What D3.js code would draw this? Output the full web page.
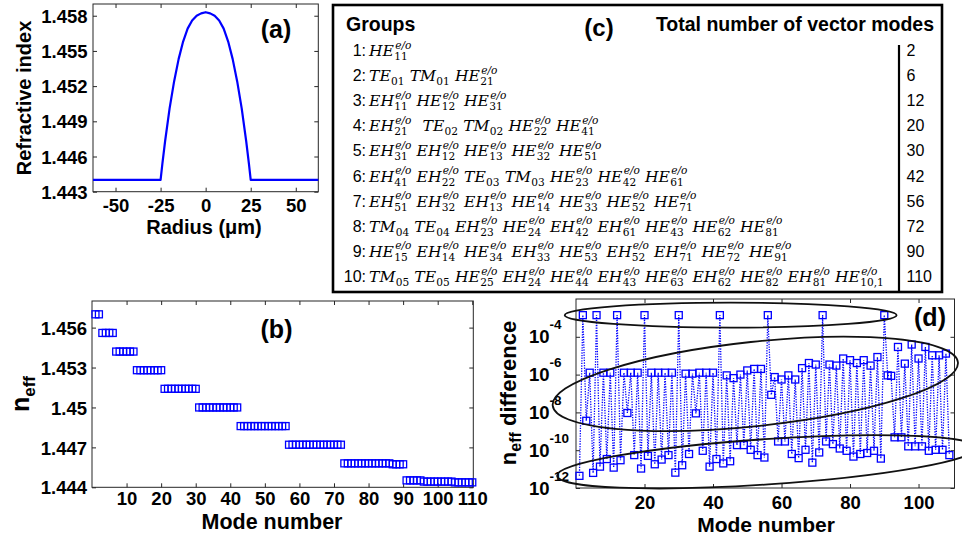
<!DOCTYPE html>
<html>
<head>
<meta charset="utf-8">
<script src="https://cdn.jsdelivr.net/npm/d3@7"></script>
<style>
  body { margin: 0; background: #fff; }
  svg { display: block; font-family: "Liberation Sans", Arial, sans-serif; }
  .tick text { font-weight: bold; font-size: 18.5px; fill: #000; }
  .tick line { stroke: #262626; }
  .frame { fill: none; stroke: #262626; stroke-width: 1; }
  .lbl { font-weight: bold; fill: #000; }
  .math { font-family: "DejaVu Serif", serif; font-style: italic; font-size: 15.6px; }
  .msub { font-family: "DejaVu Serif", serif; font-size: 10.6px; }
  .msup { font-family: "DejaVu Serif", serif; font-style: italic; font-size: 10.6px; }
</style>
</head>
<body>
<svg id="fig" width="962" height="535"></svg>
<script>
// ---------- (a) refractive index profile ----------
const radiusUm = [-62.5, -25, -24, -22.5, -20, -17.5, -15, -12.5, -10, -7.5, -5, -2.5, 0,
                  2.5, 5, 7.5, 10, 12.5, 15, 17.5, 20, 22.5, 24, 25, 62.5];
const refIndex = [1.4440, 1.4440, 1.4454, 1.4473, 1.4501, 1.4524, 1.4543, 1.4558, 1.4569, 1.4576, 1.4580, 1.4582, 1.4583,
                  1.4582, 1.4580, 1.4576, 1.4569, 1.4558, 1.4543, 1.4524, 1.4501, 1.4473, 1.4454, 1.4440, 1.4440];
const ticksA_x = [-50, -25, 0, 25, 50];
const ticksA_y = [1.443, 1.446, 1.449, 1.452, 1.455, 1.458];

// ---------- (b) effective index of each vector mode ----------
const neff = [
  1.45700, 1.45700,
  1.45560, 1.45560, 1.45560, 1.45560,
  1.45420, 1.45420, 1.45420, 1.45420, 1.45420, 1.45420,
  1.45280, 1.45280, 1.45280, 1.45280, 1.45280, 1.45280, 1.45280, 1.45280,
  1.45140, 1.45140, 1.45140, 1.45140, 1.45140, 1.45140, 1.45140, 1.45140, 1.45140, 1.45140,
  1.45000, 1.45000, 1.45000, 1.45000, 1.45000, 1.45000, 1.45000, 1.45000, 1.45000, 1.45000, 1.45000, 1.45000,
  1.44860, 1.44860, 1.44860, 1.44860, 1.44860, 1.44860, 1.44860, 1.44860, 1.44860, 1.44860, 1.44860, 1.44860, 1.44860, 1.44860,
  1.44720, 1.44720, 1.44720, 1.44720, 1.44720, 1.44720, 1.44720, 1.44720, 1.44720, 1.44720, 1.44720, 1.44720, 1.44720, 1.44720, 1.44720, 1.44720,
  1.44580, 1.44580, 1.44580, 1.44580, 1.44580, 1.44580, 1.44580, 1.44580, 1.44580, 1.44580, 1.44580, 1.44580, 1.44580, 1.44580, 1.44573, 1.44573, 1.44573, 1.44573,
  1.44452, 1.44452, 1.44452, 1.44452, 1.44452, 1.44443, 1.44443, 1.44443, 1.44443, 1.44443, 1.44443, 1.44443, 1.44443, 1.44443,
  1.44437, 1.44437, 1.44437, 1.44437, 1.44437, 1.44437
];
const ticksB_x = [10, 20, 30, 40, 50, 60, 70, 80, 90, 100, 110];
const ticksB_y = [1.444, 1.447, 1.45, 1.453, 1.456];

// ---------- (c) mode groups ----------
const groupModes = [
  ["HE_11^e/o"],
  ["TE_01", "TM_01", "HE_21^e/o"],
  ["EH_11^e/o", "HE_12^e/o", "HE_31^e/o"],
  ["EH_21^e/o", "", "TE_02", "TM_02", "HE_22^e/o", "HE_41^e/o"],
  ["EH_31^e/o", "EH_12^e/o", "HE_13^e/o", "HE_32^e/o", "HE_51^e/o"],
  ["EH_41^e/o", "EH_22^e/o", "TE_03", "TM_03", "HE_23^e/o", "HE_42^e/o", "HE_61^e/o"],
  ["EH_51^e/o", "EH_32^e/o", "EH_13^e/o", "HE_14^e/o", "HE_33^e/o", "HE_52^e/o", "HE_71^e/o"],
  ["TM_04", "TE_04", "EH_23^e/o", "HE_24^e/o", "EH_42^e/o", "EH_61^e/o", "HE_43^e/o", "HE_62^e/o", "HE_81^e/o"],
  ["HE_15^e/o", "EH_14^e/o", "HE_34^e/o", "EH_33^e/o", "HE_53^e/o", "EH_52^e/o", "EH_71^e/o", "HE_72^e/o", "HE_91^e/o"],
  ["TM_05", "TE_05", "HE_25^e/o", "EH_24^e/o", "HE_44^e/o", "EH_43^e/o", "HE_63^e/o", "EH_62^e/o", "HE_82^e/o", "EH_81^e/o", "HE_10,1^e/o"]
];
const groupTotals = [2, 6, 12, 20, 30, 42, 56, 72, 90, 110];

// ---------- (d) n_eff difference between consecutive modes ----------
const neffDiff = [
  4.4e-12, 1.4e-3, 3.6e-9, 1.26e-6, 6.3e-12, 1.4e-3,
  1.35e-11, 1.26e-6, 3.4e-11, 1.26e-6, 1.2e-11, 1.4e-3,
  2.95e-11, 1.26e-6, 9.3e-9, 1.26e-6, 5.5e-11, 1.26e-6, 1.07e-11, 1.4e-3,
  5.0e-11, 1.26e-6, 1.8e-11, 1.26e-6, 3.2e-11, 1.26e-6, 5.5e-11, 1.26e-6, 6.5e-12, 1.4e-3,
  1.6e-11, 1.12e-6, 6.3e-11, 1.12e-6, 8.9e-9, 1.26e-6, 9.3e-11, 1.26e-6, 1.35e-11, 1.26e-6, 3.4e-11, 1.4e-3,
  2.0e-11, 9.1e-7, 2.6e-11, 6.5e-7, 1.86e-10, 1.0e-6, 1.86e-10, 1.66e-6, 1.05e-10, 2.0e-6, 5.5e-11, 2.0e-6, 4.1e-11, 1.4e-3,
  8.5e-8, 7.4e-7, 2.9e-10, 5.5e-7, 2.9e-10, 9.1e-7, 6.3e-11, 5.5e-7, 3.8e-11, 2.2e-6, 1.05e-10, 4.1e-6, 2.2e-11, 3.4e-6, 7.6e-11, 1.4e-3,
  2.9e-10, 3.4e-6, 2.1e-10, 3.0e-6, 1.23e-10, 7.1e-6, 9.3e-11, 5.8e-6, 4.6e-11, 4.1e-6, 6.3e-11, 5.8e-6, 7.1e-11, 3.0e-6, 9.3e-11, 8.5e-6, 3.6e-11, 1.4e-3,
  9.1e-7, 8.6e-7, 4.8e-10, 2.9e-5, 4.8e-10, 3.8e-6, 1.6e-10, 3.9e-5, 1.6e-10, 7.1e-6, 1.6e-10, 2.9e-5, 9.3e-11, 1.05e-5, 1.05e-10, 1.05e-5, 1.05e-10, 1.3e-5, 5.5e-11
];
const ticksD_x = [20, 40, 60, 80, 100];
const ticksD_y = [1e-12, 1e-10, 1e-8, 1e-6, 1e-4];

// Hand-drawn ellipses grouping the three levels of (d): tips in (mode, value), half width in decades
const levelEllipses = [
  { from: [-3.3, 1.4e-3], to: [93.6, 1.4e-3], halfDecades: 0.66 },
  { from: [-6.8, 2.3e-8], to: [111.5, 4.5e-6], halfDecades: 2.23 },
  { from: [-5.5, 4.4e-12], to: [116.9, 1.35e-10], halfDecades: 1.2 }
];

const blue = "#0000ff";
const svg = d3.select("#fig");
svg.append("rect").attr("width", 962).attr("height", 535).attr("fill", "#fff");

// Boxed axis frame with inward ticks on all four sides; returns the labelled bottom/left axis groups.
function frame(g, x, y, xt, yt, xfmt, yfmt) {
  const [x0, x1] = x.range(), [y0, y1] = y.range();
  const tk = 4;
  const bottom = g.append("g").attr("transform", `translate(0,${y0})`)
    .call(d3.axisBottom(x).tickValues(xt).tickSize(-tk).tickPadding(0).tickFormat(xfmt))
    .call(s => s.select(".domain").remove());
  g.append("g").attr("transform", `translate(0,${y1})`)
    .call(d3.axisTop(x).tickValues(xt).tickSize(-tk).tickFormat(""))
    .call(s => s.select(".domain").remove());
  const left = g.append("g").attr("transform", `translate(${x0},0)`)
    .call(d3.axisLeft(y).tickValues(yt).tickSize(-tk).tickPadding(0).tickFormat(yfmt))
    .call(s => s.select(".domain").remove());
  g.append("g").attr("transform", `translate(${x1},0)`)
    .call(d3.axisRight(y).tickValues(yt).tickSize(-tk).tickFormat(""))
    .call(s => s.select(".domain").remove());
  g.append("rect").attr("class", "frame")
    .attr("x", x0).attr("y", y1).attr("width", x1 - x0).attr("height", y0 - y1);
  return { bottom, left };
}

function squares(g, pts, x, y, size) {
  g.selectAll(null).data(pts).enter().append("rect")
    .attr("x", d => x(d[0]) - size / 2).attr("y", d => y(d[1]) - size / 2)
    .attr("width", size).attr("height", size)
    .attr("fill", "none").attr("stroke", blue).attr("stroke-width", 1.3);
}

const plainInt = d => String(d);

// ================= (a) =================
{
  const g = svg.append("g");
  const x = d3.scaleLinear().domain([-62.5, 62.5]).range([93, 318.3]);
  const y = d3.scaleLinear().domain([1.443, 1.459]).range([191.7, 4]);
  const ax = frame(g, x, y, ticksA_x, ticksA_y, plainInt, d3.format(".3f"));
  ax.bottom.selectAll(".tick text").attr("y", 7).attr("dy", "0.71em");
  ax.left.selectAll(".tick text").attr("x", -5.5).attr("dy", "0.36em");
  g.append("path").datum(d3.zip(radiusUm, refIndex))
    .attr("fill", "none").attr("stroke", blue).attr("stroke-width", 2.2)
    .attr("stroke-linejoin", "round")
    .attr("d", d3.line().x(d => x(d[0])).y(d => y(d[1])));
  g.append("text").attr("class", "lbl").attr("font-size", 20).attr("text-anchor", "middle")
    .attr("x", 204).attr("y", 233.5).text("Radius (μm)");
  g.append("text").attr("class", "lbl").attr("font-size", 20).attr("text-anchor", "middle")
    .attr("transform", "translate(31,98) rotate(-90)").text("Refractive index");
  g.append("text").attr("class", "lbl").attr("font-size", 25).attr("text-anchor", "middle")
    .attr("x", 276).attr("y", 38).text("(a)");
}

// ================= (b) =================
{
  const g = svg.append("g");
  const x = d3.scaleLinear().domain([0, 110.3]).range([92, 473.3]);
  const y = d3.scaleLinear().domain([1.444, 1.458]).range([487.3, 301]);
  const fmtY = d => d3.format(".3f")(d).replace(/0$/, "");
  const ax = frame(g, x, y, ticksB_x, ticksB_y, plainInt, fmtY);
  ax.bottom.selectAll(".tick text").attr("y", 5).attr("dy", "0.71em");
  ax.left.selectAll(".tick text").attr("x", -5).attr("dy", "0.36em");
  squares(g, neff.map((v, i) => [i + 1, v]), x, y, 7);
  g.append("text").attr("class", "lbl").attr("font-size", 21.5).attr("text-anchor", "middle")
    .attr("x", 272).attr("y", 528.8).text("Mode number");
  const yl = g.append("text").attr("class", "lbl").attr("font-size", 25).attr("text-anchor", "middle")
    .attr("transform", "translate(29,394) rotate(-90)");
  yl.append("tspan").text("n");
  yl.append("tspan").attr("font-size", 17).attr("dy", 6).text("eff");
  g.append("text").attr("class", "lbl").attr("font-size", 25).attr("text-anchor", "middle")
    .attr("x", 276.5).attr("y", 338).text("(b)");
}

// ================= (c) =================
{
  const g = svg.append("g");
  g.append("rect").attr("x", 333).attr("y", 5).attr("width", 609).attr("height", 287)
    .attr("fill", "none").attr("stroke", "#000").attr("stroke-width", 2.6);
  g.append("line").attr("x1", 899).attr("x2", 899).attr("y1", 45).attr("y2", 292)
    .attr("stroke", "#000").attr("stroke-width", 2.2);
  g.append("text").attr("class", "lbl").attr("font-size", 19.5).attr("x", 346).attr("y", 30.5).text("Groups");
  g.append("text").attr("class", "lbl").attr("font-size", 24).attr("text-anchor", "middle")
    .attr("x", 599).attr("y", 36).text("(c)");
  g.append("text").attr("class", "lbl").attr("font-size", 19.5).attr("text-anchor", "end")
    .attr("x", 934).attr("y", 30.5).text("Total number of vector modes");

  const rowY = d3.scaleLinear().domain([0, 9]).range([56, 282]);
  groupModes.forEach((terms, i) => {
    const yb = rowY(i);
    g.append("text").attr("font-size", 16).attr("text-anchor", "end")
      .attr("x", 366).attr("y", yb).text((i + 1) + ":");
    g.append("text").attr("font-size", 16).attr("x", 906.5).attr("y", yb).text(groupTotals[i]);
    let xc = 369;
    terms.forEach(t => {
      if (t === "") { xc += 6; return; }
      const m = t.match(/^([A-Z]+)_([0-9,]+)(?:\^(.+))?$/);
      const base = g.append("text").attr("class", "math").attr("x", xc).attr("y", yb).text(m[1]);
      const sx = xc + base.node().getComputedTextLength() + 0.3;
      const sub = g.append("text").attr("class", "msub").attr("x", sx).attr("y", yb + 4).text(m[2]);
      let sw = sub.node().getComputedTextLength();
      if (m[3]) {
        const sup = g.append("text").attr("class", "msup").attr("x", sx + 0.9).attr("y", yb - 7.4).text(m[3]);
        sw = Math.max(sw, sup.node().getComputedTextLength() + 0.9);
      }
      xc = sx + sw + 5.1;
    });
  });
}

// ================= (d) =================
{
  const g = svg.append("g");
  const x = d3.scaleLinear().domain([0, 110.5]).range([576, 954.5]);
  const y = d3.scaleLog().domain([1e-12, 1e-2]).range([488, 299]);
  const ax = frame(g, x, y, ticksD_x, ticksD_y, plainInt, () => "");
  ax.bottom.selectAll(".tick text").attr("y", 8).attr("dy", "0.71em");
  // power-of-ten tick labels
  ticksD_y.forEach(v => {
    const t = g.append("text").attr("class", "lbl").attr("font-size", 18.5)
      .attr("x", 529).attr("y", y(v) + 6.5);
    t.append("tspan").text("10");
    t.append("tspan").attr("font-size", 13.5).attr("dy", -14).text(String(Math.round(Math.log10(v))));
  });
  const pts = neffDiff.map((v, i) => [i + 1, v]);
  g.append("path").datum(pts)
    .attr("fill", "none").attr("stroke", blue).attr("stroke-width", 1.3)
    .attr("stroke-dasharray", "1.3,1.3")
    .attr("d", d3.line().x(d => x(d[0])).y(d => y(d[1])));
  squares(g, pts, x, y, 7);
  // level ellipses
  const pxPerDecade = (y(1e-12) - y(1e-2)) / 10;
  levelEllipses.forEach(e => {
    const ax0 = x(e.from[0]), ay0 = y(e.from[1]), bx = x(e.to[0]), by = y(e.to[1]);
    const cx = (ax0 + bx) / 2, cy = (ay0 + by) / 2;
    const rx = Math.hypot(bx - ax0, by - ay0) / 2;
    const ang = Math.atan2(by - ay0, bx - ax0) * 180 / Math.PI;
    g.append("ellipse").attr("cx", 0).attr("cy", 0).attr("rx", rx).attr("ry", e.halfDecades * pxPerDecade)
      .attr("transform", `translate(${cx},${cy}) rotate(${ang})`)
      .attr("fill", "none").attr("stroke", "#111").attr("stroke-width", 1.8);
  });
  g.append("text").attr("class", "lbl").attr("font-size", 21).attr("text-anchor", "middle")
    .attr("x", 766).attr("y", 532).text("Mode number");
  const yl = g.append("text").attr("class", "lbl").attr("font-size", 22).attr("text-anchor", "middle")
    .attr("transform", "translate(516,393) rotate(-90)");
  yl.append("tspan").text("n");
  yl.append("tspan").attr("font-size", 16).attr("dy", 5).text("eff");
  yl.append("tspan").attr("dy", -5).text(" difference");
  g.append("text").attr("class", "lbl").attr("font-size", 25).attr("text-anchor", "middle")
    .attr("x", 930).attr("y", 326).text("(d)");
}
</script>
</body>
</html>
